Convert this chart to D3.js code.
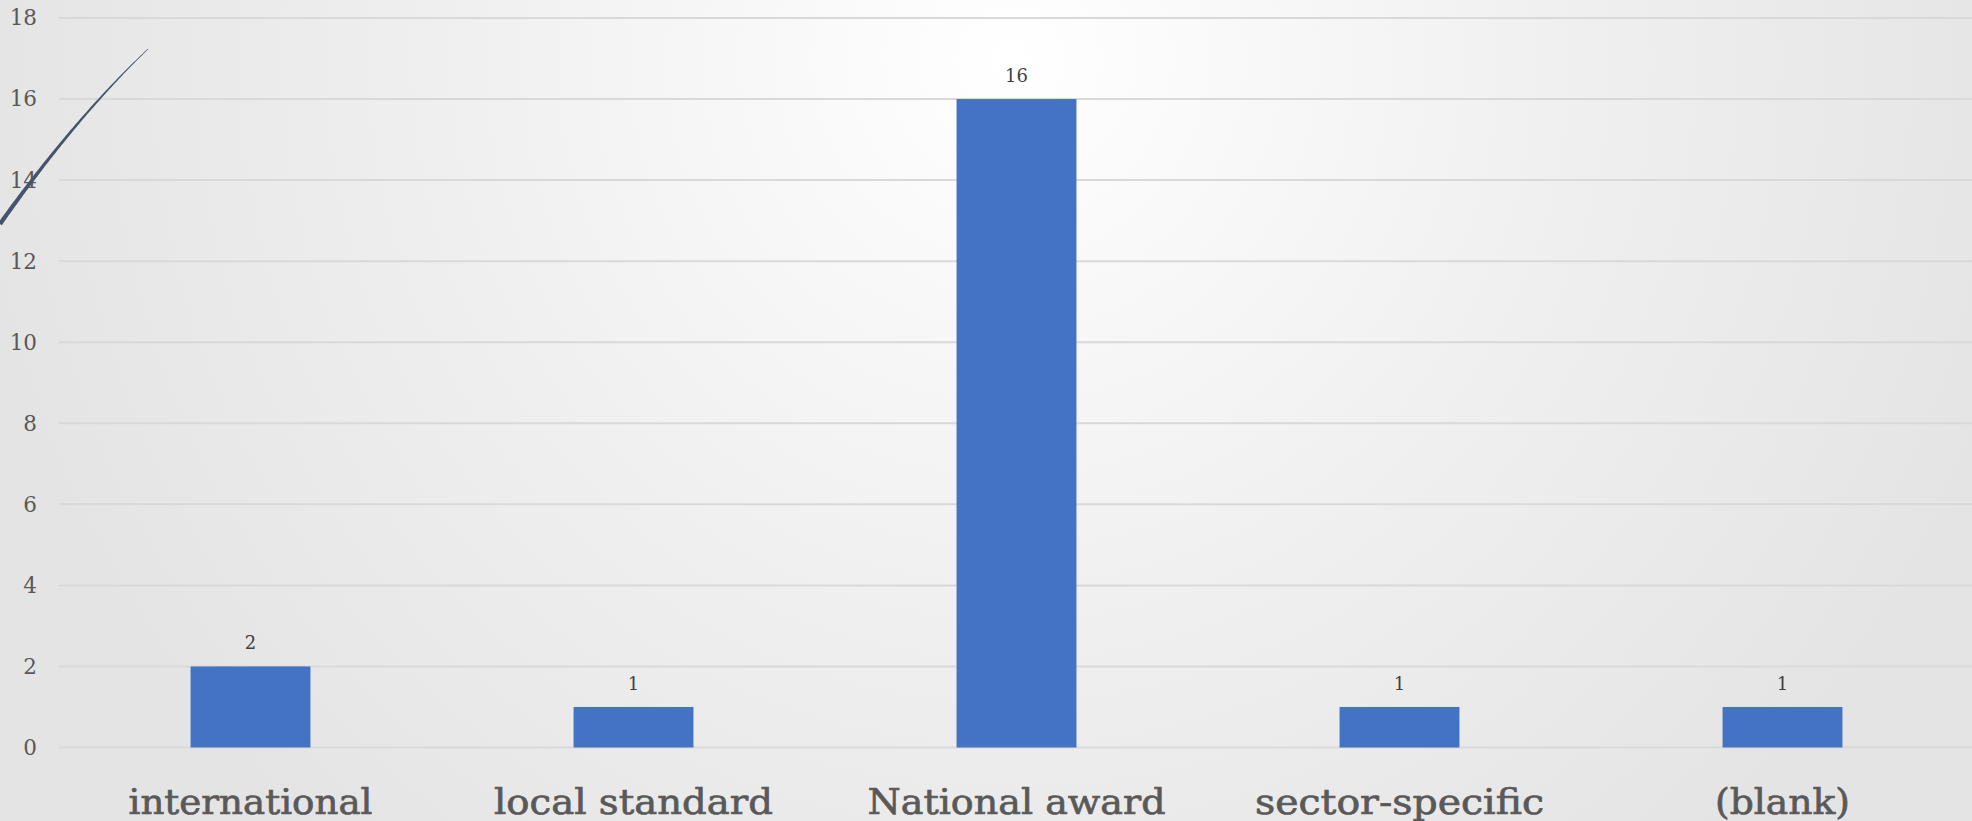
<!DOCTYPE html>
<html>
<head>
<meta charset="utf-8">
<script src="https://cdn.jsdelivr.net/npm/d3@7"></script>
<style>
  html, body { margin: 0; padding: 0; overflow: hidden; }
  svg { display: block; }
</style>
</head>
<body>
<script>
// Award type counts
const categories = ["international", "local standard", "National award", "sector-specific", "(blank)"];
const counts = [2, 1, 16, 1, 1];
const yTicks = [0, 2, 4, 6, 8, 10, 12, 14, 16, 18];

const W = 1972, H = 821;
const svg = d3.select("body").append("svg").attr("width", W).attr("height", H);

// Soft radial backdrop, brightest near the top centre
const defs = svg.append("defs");
const grad = defs.append("radialGradient").attr("id", "bg")
  .attr("gradientUnits", "userSpaceOnUse")
  .attr("cx", 1010).attr("cy", 60).attr("r", 1050);
grad.append("stop").attr("offset", "0").attr("stop-color", "#ffffff");
grad.append("stop").attr("offset", "0.55").attr("stop-color", "#efefef");
grad.append("stop").attr("offset", "1").attr("stop-color", "#e5e4e5");
svg.append("rect").attr("width", W).attr("height", H).attr("fill", "url(#bg)");

const x = d3.scaleBand().domain(categories).range([59, 59 + 5 * 383]).paddingInner(0.687).paddingOuter(0.3435);
const y = d3.scaleLinear().domain([0, 18]).range([747.5, 18]);

const font = "'DejaVu Serif', serif";
const textCol = "#595959";

// Horizontal gridlines
svg.append("g").selectAll("line").data(yTicks).join("line")
  .attr("x1", 59).attr("x2", W)
  .attr("y1", d => y(d)).attr("y2", d => y(d))
  .attr("stroke", "#d9d9d9").attr("stroke-width", 2);

// Value axis labels
const yAxis = svg.append("g").attr("transform", "translate(59,0)")
  .call(d3.axisLeft(y).tickValues(yTicks).tickSize(0).tickPadding(22));
yAxis.select(".domain").remove();
yAxis.selectAll("text").attr("font-family", font).attr("font-size", 21.5).attr("fill", textCol);

// Bars
svg.append("g").selectAll("rect").data(categories).join("rect")
  .attr("x", d => x(d))
  .attr("width", x.bandwidth())
  .attr("y", (d, i) => y(counts[i]))
  .attr("height", (d, i) => y(0) - y(counts[i]))
  .attr("fill", "#4472c4");

// Value labels above bars
svg.append("g").selectAll("text").data(categories).join("text")
  .attr("x", d => x(d) + x.bandwidth() / 2)
  .attr("y", (d, i) => y(counts[i]) - 17)
  .attr("text-anchor", "middle")
  .attr("font-family", font).attr("font-size", 18).attr("fill", "#404040")
  .text((d, i) => counts[i]);

// Category labels
const xAxis = svg.append("g").attr("transform", `translate(0,${y(0)})`)
  .call(d3.axisBottom(x).tickSize(0).tickPadding(0));
xAxis.select(".domain").remove();
xAxis.selectAll("text")
  .attr("dy", null).attr("y", 66.5)
  .attr("font-family", font).attr("font-size", 36).attr("fill", textCol)
  .attr("stroke", textCol).attr("stroke-width", 0.7)
  .attr("textLength", d => ({"international": 244, "local standard": 279, "National award": 298, "sector-specific": 289, "(blank)": 135})[d])
  .attr("lengthAdjust", "spacingAndGlyphs");

// Decorative tapering arc at the top-left
const p0 = [0, 224], c = [74, 119.5], p2 = [148, 49];
const N = 60, left = [], right = [];
for (let k = 0; k <= N; k++) {
  const t = k / N, u = 1 - t;
  const px = u * u * p0[0] + 2 * u * t * c[0] + t * t * p2[0];
  const py = u * u * p0[1] + 2 * u * t * c[1] + t * t * p2[1];
  const dx = 2 * u * (c[0] - p0[0]) + 2 * t * (p2[0] - c[0]);
  const dy = 2 * u * (c[1] - p0[1]) + 2 * t * (p2[1] - c[1]);
  const len = Math.hypot(dx, dy), w = (1 - t) * 1.9 + 0.3;
  left.push([px - dy / len * w, py + dx / len * w]);
  right.push([px + dy / len * w, py - dx / len * w]);
}
svg.append("path")
  .attr("d", d3.line()(left.concat(right.reverse())) + "Z")
  .attr("fill", "#44546a");
</script>
</body>
</html>
